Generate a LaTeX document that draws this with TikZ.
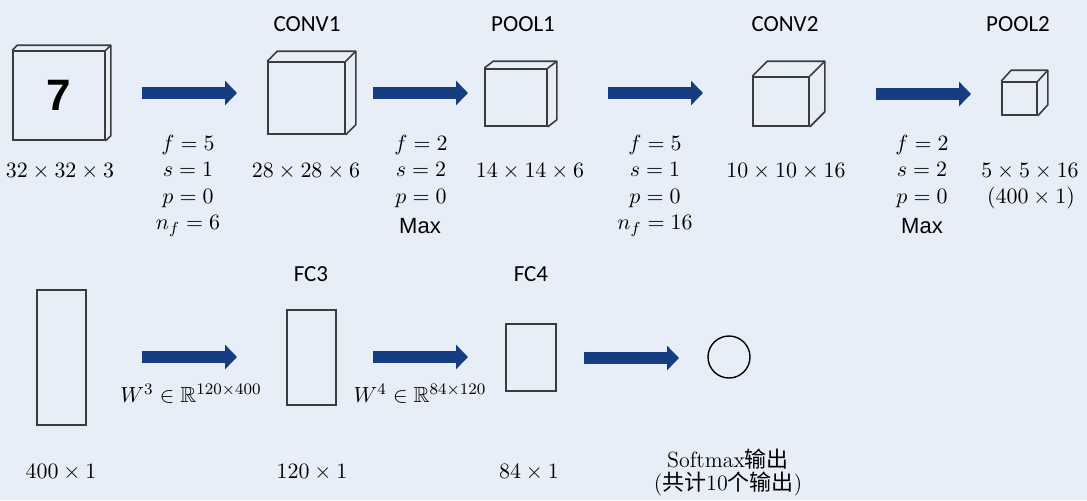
\documentclass[tikz,border=0pt]{standalone}
\usepackage{fontspec}
\usepackage{amsmath,amssymb}
\usetikzlibrary{arrows.meta}
\newfontfamily\calfont{Carlito}
\newfontfamily\arialfont{Liberation Sans}
\newfontfamily\cjk{Noto Sans CJK SC}
\definecolor{bgc}{RGB}{232,238,247}
\definecolor{arrowc}{RGB}{22,61,128}
\definecolor{cubec}{RGB}{60,60,60}
\tikzset{
  lbl/.style={font=\calfont\fontsize{11.5}{13}\selectfont, inner sep=0, anchor=base},
  dim/.style={font=\fontsize{11}{13}\selectfont, inner sep=0, anchor=base},
  maxlbl/.style={font=\arialfont\fontsize{11}{13}\selectfont, inner sep=0, anchor=base},
  face/.style={draw=cubec, line width=0.8pt, inner sep=0, rectangle},
  edge3d/.style={draw=cubec, line width=0.8pt, line join=round},
  bigarrow/.style={draw=arrowc, line width=6pt, -{Triangle[width=12pt,length=6pt]}},
}
\newcommand\cubeback[3]{%
  \draw[edge3d] (#1.north west) -- ++(#2,#3) -| ([shift={(#2,#3)}]#1.south east) -- (#1.south east);
  \draw[edge3d] (#1.north east) -- ++(#2,#3);}
\begin{document}
\begin{tikzpicture}[x=0.5pt,y=-0.5pt]
\fill[bgc] (0,0) rectangle (1087,500);
\useasboundingbox (0,0) rectangle (1087,500);

% ---- row 1 cubes
\node[face, minimum width=46pt, minimum height=44.5pt,
      font=\arialfont\bfseries\fontsize{22}{24}\selectfont] (in) at (59,95.5) {7};
\cubeback{in}{5}{-5}
\node[face, minimum width=38.5pt, minimum height=36pt] (conv1) at (306.5,98) {};
\cubeback{conv1}{10}{-10}
\node[face, minimum width=31pt, minimum height=28.5pt] (pool1) at (516,97.5) {};
\cubeback{pool1}{9}{-7}
\node[face, minimum width=28pt, minimum height=24.5pt] (conv2) at (781,101.5) {};
\cubeback{conv2}{15}{-15}
\node[face, minimum width=17.5pt, minimum height=16.5pt] (pool2) at (1019.5,98.5) {};
\cubeback{pool2}{10}{-11}

% ---- row 1 titles
\node[lbl] (tc1) at (307,31) {CONV1};
\node[lbl] (tp1) at (523,31) {POOL1};
\node[lbl] (tc2) at (785,31) {CONV2};
\node[lbl] (tp2) at (1018,31) {POOL2};

% ---- row 1 dimensions
\node[dim] (d1) at (60,177) {$32\times32\times3$};
\node[dim] (d2) at (306,177) {$28\times28\times6$};
\node[dim] (d3) at (530,177) {$14\times14\times6$};
\node[dim] (d4) at (786,177) {$10\times10\times16$};
\node[dim] (d5) at (1030,177) {$5\times5\times16$};
\node[dim] (d5b) at (1031,203) {$(400\times1)$};

% ---- row 1 arrows
\coordinate (a1s) at (142,93);  \coordinate (a1e) at (237,93);
\coordinate (a2s) at (373,93);  \coordinate (a2e) at (468,93);
\coordinate (a3s) at (608,93);  \coordinate (a3e) at (703,93);
\coordinate (a4s) at (876,94);  \coordinate (a4e) at (971,94);
\draw[bigarrow] (a1s) -- (a1e);
\draw[bigarrow] (a2s) -- (a2e);
\draw[bigarrow] (a3s) -- (a3e);
\draw[bigarrow] (a4s) -- (a4e);

% ---- parameters
\node[dim] (p1a) at (188,150) {$f=5$};
\node[dim] (p1b) at (188,176.5) {$s=1$};
\node[dim] (p1c) at (188,203) {$p=0$};
\node[dim] (p1d) at (188,229.5) {$n_f=6$};

\node[dim] (p2a) at (421,150) {$f=2$};
\node[dim] (p2b) at (421,176.5) {$s=2$};
\node[dim] (p2c) at (421,203) {$p=0$};
\node[maxlbl] (p2d) at (420,233) {Max};

\node[dim] (p3a) at (655,150) {$f=5$};
\node[dim] (p3b) at (655,176.5) {$s=1$};
\node[dim] (p3c) at (655,203) {$p=0$};
\node[dim] (p3d) at (655,229.5) {$n_f=16$};

\node[dim] (p4a) at (922,150) {$f=2$};
\node[dim] (p4b) at (922,176.5) {$s=2$};
\node[dim] (p4c) at (922,203) {$p=0$};
\node[maxlbl] (p4d) at (922,233) {Max};

% ---- row 2
\node[face, minimum width=24.5pt, minimum height=67.5pt] (v400) at (61.5,357.5) {};
\node[face, minimum width=24.5pt, minimum height=47.5pt] (fc3) at (311.5,357.5) {};
\node[face, minimum width=25pt, minimum height=33.5pt] (fc4) at (531,357.5) {};
\node[draw=black, line width=0.7pt, circle, minimum size=21pt, inner sep=0] (out) at (729,357) {};

\node[lbl] (tf3) at (311,281) {FC3};
\node[lbl] (tf4) at (531,281) {FC4};

\coordinate (a5s) at (142,357);  \coordinate (a5e) at (237,357);
\coordinate (a6s) at (373,357);  \coordinate (a6e) at (468,357);
\coordinate (a7s) at (584,358);  \coordinate (a7e) at (679,358);
\draw[bigarrow] (a5s) -- (a5e);
\draw[bigarrow] (a6s) -- (a6e);
\draw[bigarrow] (a7s) -- (a7e);

\node[dim] (w3) at (191,402) {$W^3\in\mathbb{R}^{120\times400}$};
\node[dim] (w4) at (420,402) {$W^4\in\mathbb{R}^{84\times120}$};

\node[dim] (e1) at (61,478) {$400\times1$};
\node[dim] (e2) at (312,478) {$120\times1$};
\node[dim] (e3) at (529,478) {$84\times1$};

\node[dim] (sm1) at (728,467) {Softmax{\cjk 输出}};
\node[dim] (sm2) at (728,490) {({\cjk 共计}10{\cjk 个输出})};
\end{tikzpicture}
\end{document}
